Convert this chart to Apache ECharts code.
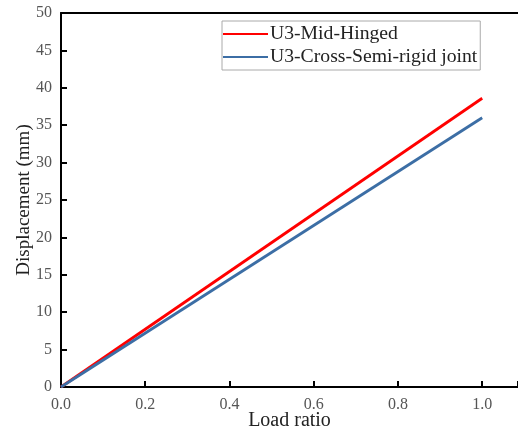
<!DOCTYPE html>
<html>
<head>
<meta charset="utf-8">
<script src="https://cdn.jsdelivr.net/npm/echarts@6/dist/echarts.min.js"></script>
<style>
  html, body { margin: 0; padding: 0; background: #fff; }
  #chart { width: 518px; height: 438px; }
</style>
</head>
<body>
<div id="chart"></div>
<script>
// 数据
const seriesNames = ['U3-Mid-Hinged', 'U3-Cross-Semi-rigid joint'];
const loadRatio = [0, 1.0];
const midHinged = [0, 38.6];
const crossSemiRigid = [0, 36.0];
const xTicks = [0, 0.2, 0.4, 0.6, 0.8, 1.0];

const FONT = '"Liberation Serif", "DejaVu Serif", serif';

const chart = echarts.init(document.getElementById('chart'));

const toPairs = ys => loadRatio.map((x, i) => [x, ys[i]]);

chart.setOption({
  animation: false,
  grid: { left: 61, right: 0, top: 13, bottom: 51, containLabel: false, outerBoundsMode: 'none' },
  legend: {
    orient: 'vertical',
    left: 222,
    top: 21,
    padding: [3, 3, 3, 1],
    itemGap: 3,
    itemWidth: 45,
    itemHeight: 20,
    borderColor: '#aaa',
    borderWidth: 1,
    textStyle: { fontFamily: FONT, fontSize: 19.7, color: '#222', padding: [0, 0, 0, -3] },
    data: seriesNames.map(n => ({ name: n, icon: 'path://M0,0H45V2H0Z' }))
  },
  xAxis: [{
    type: 'value',
    min: 0,
    max: 1.085,
    interval: 0.2,
    name: 'Load ratio',
    nameLocation: 'middle',
    nameGap: 24,
    nameMoveOverlap: false,
    nameTextStyle: { fontFamily: FONT, fontSize: 20, color: '#222' },
    axisLine: { lineStyle: { color: '#000', width: 2 } },
    axisTick: { inside: true, length: 6, lineStyle: { color: '#000', width: 2 } },
    axisLabel: {
      fontFamily: FONT, fontSize: 16, color: '#555', margin: 10,
      formatter: v => xTicks.some(t => Math.abs(t - v) < 1e-6) ? v.toFixed(1) : ''
    },
    splitLine: { show: false }
  }, {
    type: 'value',
    position: 'top',
    min: 0,
    max: 1.085,
    axisLine: { show: true, lineStyle: { color: '#000', width: 2 } },
    axisTick: { show: false },
    axisLabel: { show: false },
    splitLine: { show: false }
  }],
  yAxis: {
    type: 'value',
    min: 0,
    max: 50,
    interval: 5,
    name: 'Displacement (mm)',
    nameLocation: 'middle',
    nameGap: 27,
    nameMoveOverlap: false,
    nameTextStyle: { fontFamily: FONT, fontSize: 19, color: '#222' },
    axisLine: { show: true, lineStyle: { color: '#000', width: 2 } },
    axisTick: { inside: true, length: 6, lineStyle: { color: '#000', width: 2 } },
    axisLabel: { fontFamily: FONT, fontSize: 16, color: '#555', margin: 9 },
    splitLine: { show: false }
  },
  series: [{
    name: seriesNames[0],
    type: 'line',
    symbol: 'none',
    lineStyle: { color: '#ff0000', width: 2.8 },
    itemStyle: { color: '#ff0000' },
    data: toPairs(midHinged)
  }, {
    name: seriesNames[1],
    type: 'line',
    symbol: 'none',
    lineStyle: { color: '#3c6ea5', width: 2.8 },
    itemStyle: { color: '#3c6ea5' },
    data: toPairs(crossSemiRigid)
  }]
});
</script>
</body>
</html>
